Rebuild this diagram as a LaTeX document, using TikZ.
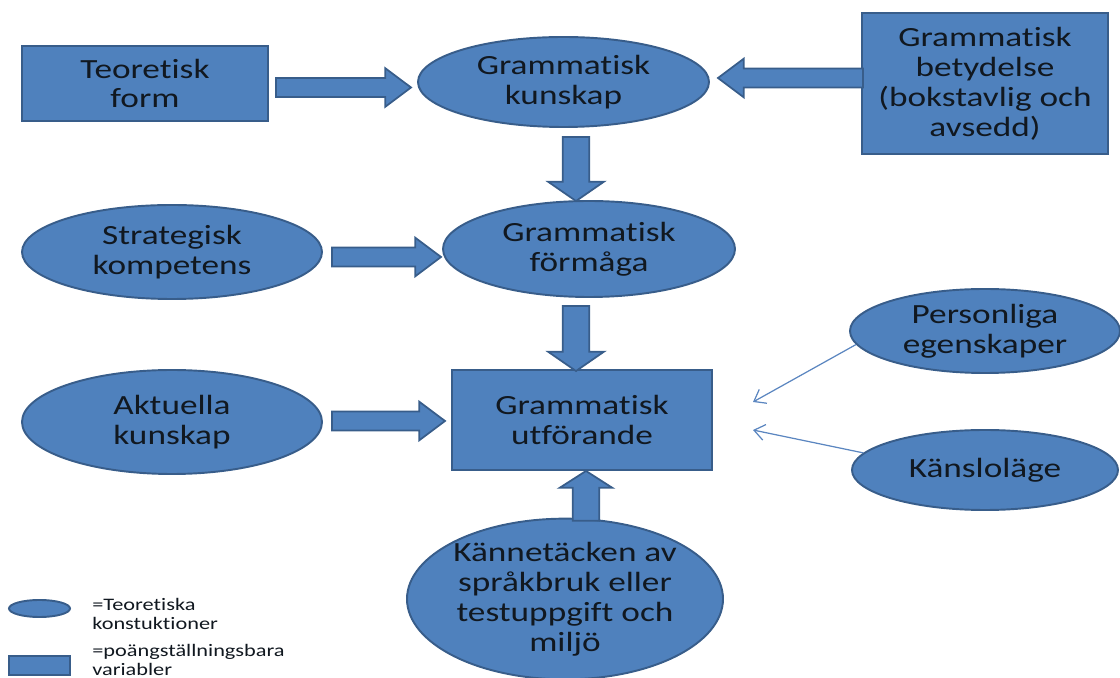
\documentclass[tikz,border=0pt]{standalone}
\usepackage{fontspec}
\setmainfont{Carlito}[FakeStretch=1.27,Ligatures=NoCommon]
\usetikzlibrary{shapes.geometric,arrows.meta,calc}
\definecolor{blu}{HTML}{4F81BD}
\definecolor{bdr}{HTML}{385D8A}
\definecolor{thinblu}{HTML}{5B86C0}
\definecolor{txt}{HTML}{111820}
\tikzset{
  box/.style={draw=bdr, fill=blu, line width=1.1pt, inner sep=0pt, align=center, text=txt,
    font=\fontsize{15.8pt}{17pt}\selectfont},
  oval/.style={ellipse, draw=bdr, fill=blu, line width=1.1pt, inner sep=0pt, align=center, text=txt,
    font=\fontsize{15.8pt}{17pt}\selectfont},
  barrow/.style n args={3}{draw=bdr, fill=blu, line width=1pt, line join=miter,
    to path={let \p1=(\tikztostart), \p2=(\tikztotarget),
      \n1={veclen(\x2-\x1,\y2-\y1)}, \n2={atan2(\y2-\y1,\x2-\x1)} in
      {[shift={(\p1)}, rotate=\n2]
       (0pt,-#1) -- ({\n1*1pt-#3},-#1) -- ({\n1*1pt-#3},-#2) -- ({\n1*1pt},0pt)
       -- ({\n1*1pt-#3},#2) -- ({\n1*1pt-#3},#1) -- (0pt,#1) -- cycle}}},
  harrow/.style={barrow={5.4pt}{11pt}{14.7pt}},
  varrow/.style={barrow={7.6pt}{15.9pt}{11pt}},
  thinarrow/.style={draw=thinblu, line width=0.7pt, -{Straight Barb[length=6pt,width=9pt]}},
  legtext/.style={anchor=west, align=left, inner sep=0pt, text=txt, font=\fontsize{10pt}{11pt}\selectfont}
}
\begin{document}
\begin{tikzpicture}[x=0.02cm, y=-0.02cm]
\useasboundingbox (0,0) rectangle (1120,678);
% nodes
\node[box, minimum width=246*0.02cm, minimum height=75*0.02cm] (tf) at (145,83.5) {Teoretisk\\form};
\node[oval, minimum width=291*0.02cm, minimum height=90*0.02cm] (gk) at (563.5,82) {Grammatisk\\kunskap};
\node[box, minimum width=246*0.02cm, minimum height=141*0.02cm] (gb) at (985,83.5) {Grammatisk\\betydelse\\(bokstavlig och\\avsedd)};
\node[oval, minimum width=300*0.02cm, minimum height=94*0.02cm] (gs) at (172,252) {Strategisk\\kompetens};
\node[oval, minimum width=292*0.02cm, minimum height=96*0.02cm] (gf) at (589,249) {Grammatisk\\förmåga};
\node[oval, minimum width=300*0.02cm, minimum height=104*0.02cm] (ak) at (172,422) {Aktuella\\kunskap};
\node[box, minimum width=260*0.02cm, minimum height=100*0.02cm] (gu) at (582,420) {Grammatisk\\utförande};
\node[oval, minimum width=270*0.02cm, minimum height=84*0.02cm] (pe) at (985,331) {Personliga\\egenskaper};
\node[oval, minimum width=266*0.02cm, minimum height=80*0.02cm] (ks) at (985,470) {Känsloläge};
\node[oval, minimum width=316*0.02cm, minimum height=142*0.02cm] (kt) at (565,599) {Kännetäcken av\\språkbruk eller\\testuppgift och\\miljö};
% legend
\node[oval, minimum width=61*0.02cm, minimum height=17*0.02cm] (le) at (39.5,608.5) {};
\node[box, minimum width=61*0.02cm, minimum height=19*0.02cm] (lr) at (39.5,665.5) {};
\node[legtext] (let) at (92,614) {=Teoretiska\\konstuktioner};
\node[legtext] (lrt) at (92,660) {=poängställningsbara\\variabler};
% block arrows
\draw[harrow] ($(tf.east)+(7,4)$) to ($(gk.west)+(-6,5.5)$);
\draw[harrow] ($(gb.west)+(2,-5.5)$) to ($(gk.east)+(8,-4)$);
\draw[varrow] ($(gk.south)+(12.5,9)$) to ($(gf.north)+(-13,1)$);
\draw[harrow] ($(gs.east)+(9,5)$) to ($(gf.west)+(-1,8)$);
\draw[varrow] ($(gf.south)+(-13,8)$) to ($(gu.north)+(-6,2)$);
\draw[harrow] ($(ak.east)+(9,-1)$) to ($(gu.west)+(-6,1)$);
\draw[barrow={7.6pt}{15pt}{9.6pt}] ($(kt.north)+(21,3)$) to ($(gu.south)+(4,0)$);
% thin arrows
\coordinate (t1) at (753,402);
\coordinate (t2) at (753,430);
\draw[thinarrow] (pe.186) -- (t1);
\draw[thinarrow] (ks.172) -- (t2);
\end{tikzpicture}
\end{document}
